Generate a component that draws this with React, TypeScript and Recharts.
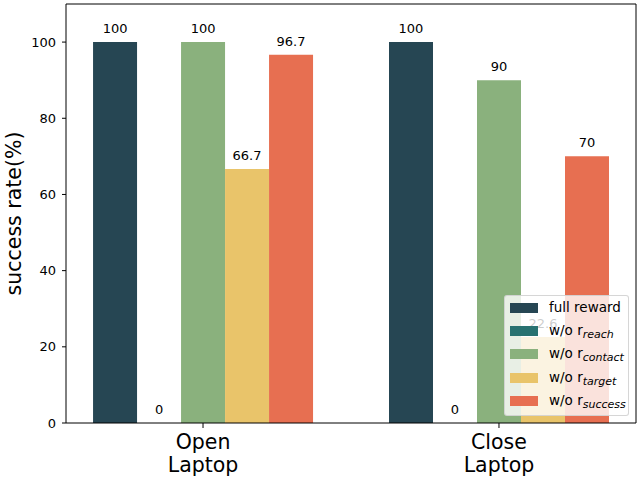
import { BarChart, Bar, XAxis, YAxis, Legend, LabelList, ReferenceLine } from 'recharts'

const categories = [['Open', 'Laptop'], ['Close', 'Laptop']]
const fullReward = [100, 100]
const woReach = [0, 0]
const woContact = [100, 90]
const woTarget = [66.7, 22.6]
const woSuccess = [96.7, 70]
const yTicks = [0, 20, 40, 60, 80, 100]

const series = [
  { key: 'full', name: 'full reward', sub: '', color: '#264653', values: fullReward },
  { key: 'reach', name: 'w/o r', sub: 'reach', color: '#287271', values: woReach },
  { key: 'contact', name: 'w/o r', sub: 'contact', color: '#8ab17d', values: woContact },
  { key: 'target', name: 'w/o r', sub: 'target', color: '#e9c46a', values: woTarget },
  { key: 'success', name: 'w/o r', sub: 'success', color: '#e76f51', values: woSuccess },
]

const data = categories.map((c, i) => {
  const row: Record<string, number | string> = { x: i, label: c.join('\n') }
  series.forEach((s) => { row[s.key] = s.values[i] })
  return row
})

const FONT = 'DejaVu Sans, sans-serif'

function CatTick(props: any) {
  const { x, y, payload } = props
  const lines = categories[payload.value] || []
  return (
    <text x={x} y={y} textAnchor="middle" fontSize={20.5} fontFamily={FONT} fill="#000">
      {lines.map((l, i) => (
        <tspan key={i} x={x} dy={i === 0 ? 19 : 23}>{l}</tspan>
      ))}
    </text>
  )
}

function LegendBox() {
  return (
    <div
      style={{
        boxSizing: 'border-box',
        width: 125,
        height: 121,
        border: '1px solid rgba(204,204,204,0.8)',
        borderRadius: 3,
        background: 'rgba(255,255,255,0.8)',
        fontFamily: FONT,
        fontSize: 13.5,
        color: '#000',
        paddingTop: 0,
      }}
    >
      {series.map((s) => (
        <div key={s.key} style={{ display: 'flex', alignItems: 'center', height: 23.3 }}>
          <div style={{ width: 28, height: 10, background: s.color, marginLeft: 5, marginRight: 11, flexShrink: 0 }} />
          <span style={{ whiteSpace: 'nowrap', position: 'relative', top: -1 }}>
            {s.name}
            {s.sub && <i style={{ fontSize: 11, position: 'relative', top: 3 }}>{s.sub}</i>}
          </span>
        </div>
      ))}
    </div>
  )
}

export default function App() {
  return (
    <div style={{ position: 'absolute', left: 0, top: 0, width: 640, height: 480, background: '#fff' }}>
      <BarChart
        width={640}
        height={480}
        data={data}
        margin={{ top: 4, right: 4, left: 0, bottom: 0 }}
        barGap={0}
        barSize={44}
      >
        <XAxis
          type="number"
          dataKey="x"
          domain={[-0.463, 1.463]}
          ticks={[0, 1]}
          allowDataOverflow
          height={57}
          tickSize={5}
          stroke="#000"
          interval={0}
          tick={<CatTick />}
        />
        <YAxis
          domain={[0, 110]}
          ticks={yTicks}
          allowDataOverflow
          width={66}
          tickSize={4}
          tickMargin={6}
          stroke="#000"
          tick={{ fill: '#000', fontSize: 13, fontFamily: FONT }}
          label={{
            content: (p: any) => {
              const vb = p.viewBox
              const cx = vb.x + 13.5
              const cy = vb.y + vb.height / 2
              return (
                <text
                  x={cx}
                  y={cy}
                  transform={`rotate(-90 ${cx} ${cy})`}
                  textAnchor="middle"
                  dominantBaseline="central"
                  fontSize={20.5}
                  fontFamily={FONT}
                  fill="#000"
                >
                  success rate(%)
                </text>
              )
            },
          }}
        />
        <ReferenceLine y={110} stroke="#000" />
        <ReferenceLine x={1.463} stroke="#000" />
        {series.map((s) => (
          <Bar key={s.key} dataKey={s.key} fill={s.color} minPointSize={0.01} isAnimationActive={false}>
            <LabelList
              dataKey={s.key}
              position="top"
              offset={9}
              fill="#000"
              fontSize={13}
              fontFamily={FONT}
            />
          </Bar>
        ))}
        <Legend
          content={() => <LegendBox />}
          layout="vertical"
          align="center"
          verticalAlign="middle"
          wrapperStyle={{ left: 504, top: 295, width: 125, height: 121 }}
        />
      </BarChart>
    </div>
  )
}
